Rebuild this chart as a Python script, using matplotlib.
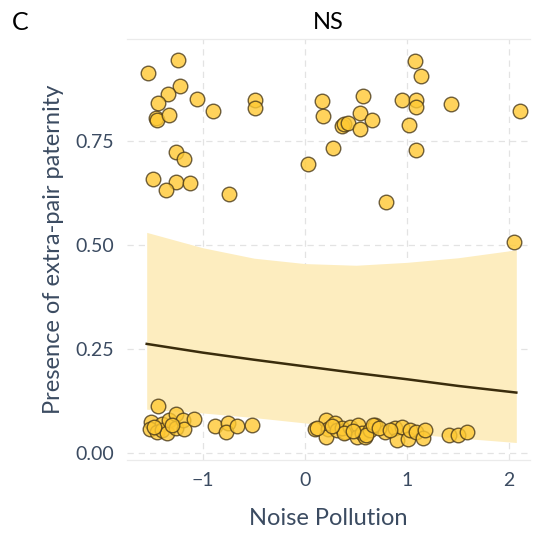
import numpy as np
import matplotlib
matplotlib.use('Agg')
import matplotlib.pyplot as plt

# jittered observations (noise pollution, presence of EPP)
x_top = [-1.54, -1.24, -1.22, -1.34, -1.44, -1.06, -1.46, -1.45, -1.33, -0.90,
         -0.49, -0.49, 0.17, 0.18, 0.57, 0.54, 0.66, 0.36, 0.38, 0.42,
         0.54, 0.95, 1.08, 1.14, 1.09, 1.09, 1.02, 1.43, 2.11, -1.26,
         -1.18, 0.27, 0.03, 1.09, -1.49, -1.26, -1.13, -1.36, -0.74, 0.79,
         2.05]
y_top = [0.912, 0.945, 0.882, 0.862, 0.840, 0.851, 0.806, 0.799, 0.812, 0.821,
         0.849, 0.829, 0.845, 0.810, 0.857, 0.818, 0.799, 0.785, 0.790, 0.792,
         0.779, 0.849, 0.943, 0.907, 0.849, 0.832, 0.789, 0.839, 0.821, 0.722,
         0.707, 0.734, 0.694, 0.728, 0.658, 0.652, 0.648, 0.633, 0.622, 0.603,
         0.506]

x_bot = [-1.44, -1.51, -1.52, -1.40, -1.45, -1.40, -1.35, -1.33, -1.26, -1.26,
         -1.19, -1.18, -1.09, -1.48, -1.30, -0.88, -0.75, -0.77, -0.67, -0.52,
         0.10, 0.21, 0.23, 0.21, 0.29, 0.31, 0.39, 0.36, 0.44, 0.52,
         0.51, 0.56, 0.59, 0.64, 0.69, 0.78, 0.88, 0.90, 0.38, 0.60,
         0.67, 0.95, 1.01, 1.03, 1.09, 1.16, 1.18, 0.47, 0.73, 0.83,
         0.26, 0.12, 1.41, 1.50, 1.59]
y_bot = [0.113, 0.075, 0.057, 0.070, 0.051, 0.054, 0.047, 0.079, 0.094, 0.059,
         0.079, 0.057, 0.081, 0.062, 0.066, 0.065, 0.073, 0.051, 0.065, 0.066,
         0.057, 0.079, 0.057, 0.039, 0.071, 0.055, 0.051, 0.060, 0.063, 0.067,
         0.039, 0.047, 0.039, 0.055, 0.067, 0.051, 0.059, 0.031, 0.048, 0.043,
         0.067, 0.063, 0.033, 0.055, 0.051, 0.035, 0.055, 0.052, 0.061, 0.056,
         0.064, 0.060, 0.043, 0.043, 0.051]

# fitted curve and confidence band
fit_x = [-1.55, -1.0, -0.5, 0.0, 0.5, 1.0, 1.5, 2.07]
fit_y = [0.262, 0.241, 0.224, 0.208, 0.192, 0.177, 0.161, 0.145]
fit_lo = [0.105, 0.096, 0.085, 0.072, 0.059, 0.047, 0.036, 0.025]
fit_hi = [0.530, 0.493, 0.468, 0.455, 0.451, 0.458, 0.469, 0.488]

xticks = [-1, 0, 1, 2]
yticks = [0.0, 0.25, 0.5, 0.75]
ytick_labels = ['0.00', '0.25', '0.50', '0.75']

txt_col = '#3B4B61'
plt.rcParams['font.family'] = ['Lato', 'DejaVu Sans']

fig = plt.figure(figsize=(5.35, 5.33), dpi=100)
ax = fig.add_axes([0.237, 0.137, 0.754, 0.790])

ax.fill_between(fit_x, fit_lo, fit_hi, color='#FDEDBF', lw=0, zorder=1)
ax.plot(fit_x, fit_y, color='#3A2C0C', lw=1.8, zorder=2)

ax.scatter(x_top + x_bot, y_top + y_bot, s=110, facecolor='#FFC933', alpha=0.8,
           edgecolor='#4A3A1A', linewidth=1.0, zorder=3)

ax.set_xlim(-1.745, 2.206)
ax.set_ylim(-0.017, 0.995)
ax.set_xticks(xticks)
ax.set_xticklabels(['\u22121', '0', '1', '2'])
ax.set_yticks(yticks)
ax.set_yticklabels(ytick_labels)
ax.tick_params(length=0, labelsize=14, colors=txt_col, pad=9)
ax.grid(True, color='#E3E3E3', lw=0.9, ls=(0, (5, 4)), zorder=0)
ax.set_axisbelow(True)

for s in ['left', 'right']:
    ax.spines[s].set_visible(False)
for s in ['top', 'bottom']:
    ax.spines[s].set_color('#EBEBEB')
    ax.spines[s].set_linewidth(0.9)

ax.set_xlabel('Noise Pollution', fontsize=17, color=txt_col, labelpad=13)
ax.set_ylabel('Presence of extra-pair paternity', fontsize=17, color=txt_col, labelpad=8)
ax.set_title('NS', fontsize=17, color='black', pad=7)
fig.text(0.022, 0.957, 'C', fontsize=18, color='black', va='center', ha='left')

fig.savefig('out.png', dpi=100)
